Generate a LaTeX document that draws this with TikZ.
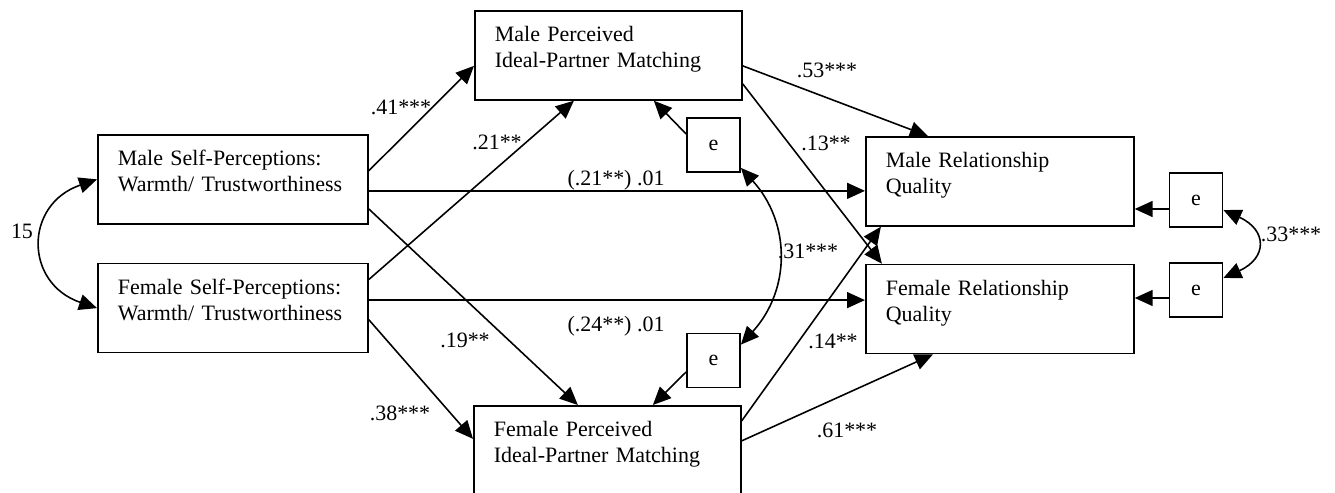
\documentclass[tikz,border=0pt]{standalone}
\usepackage{fontspec}
\setmainfont{Liberation Serif}
\usetikzlibrary{arrows.meta,positioning}

\begin{document}
\begin{tikzpicture}[
      x=0.02cm,y=-0.02cm,
      font=\fontsize{12.5}{14.8}\selectfont,
      box/.style={draw,line width=1pt,anchor=north west,inner xsep=4mm,inner ysep=0pt,
        text width=#1,align=left,text height=6.2mm,text depth=11.6mm},
      ebox/.style={draw,line width=1pt,minimum width=10.6mm,minimum height=10.8mm,inner sep=0pt},
      lbl/.style={anchor=base,inner sep=0pt},
      link/.style={->,line width=0.9pt},
      >={Triangle[length=3.6mm,width=3.2mm]}
    ]
      \useasboundingbox (0,0) rectangle (1335,493);

      % variables
      \node[box=4.6cm] (MSP) at (97,134) {Male Self-Perceptions:\\Warmth/ Trustworthiness};
      \node[box=4.6cm,below=7.6mm of MSP] (FSP) {Female Self-Perceptions:\\Warmth/ Trustworthiness};
      \node[box=4.54cm] (MPM) at (474,10) {Male Perceived\\Ideal-Partner Matching};
      \node[box=4.54cm] (FPM) at (473,405) {Female Perceived\\Ideal-Partner Matching};
      \node[box=4.56cm] (MRQ) at (865,136) {Male Relationship\\Quality};
      \node[box=4.56cm,below=7.4mm of MRQ] (FRQ) {Female Relationship\\Quality};

      % residuals
      \node[ebox] (eMPM) at (713.5,145) {e};
      \node[ebox] (eFPM) at (713.5,360.5) {e};
      \node[ebox] (eMRQ) at (1196,200) {e};
      \node[ebox] (eFRQ) at (1196,290) {e};

      % paths
      \draw[link] ([yshift=1.7mm]MSP.east) -- ([yshift=-2.1mm]MPM.west);
      \draw[link] ([yshift=-2.3mm]MSP.east) -- ([yshift=-2.3mm]MSP.east -| MRQ.west);
      \draw[link] ([yshift=-5.9mm]MSP.east) -- ([xshift=-5.9mm]FPM.north);
      \draw[link] ([yshift=5.7mm]FSP.east) -- ([xshift=-6.9mm]MPM.south);
      \draw[link] ([yshift=1.6mm]FSP.east) -- ([yshift=1.6mm]FSP.east -| FRQ.west);
      \draw[link] ([yshift=-2.3mm]FSP.east) -- ([yshift=2.3mm]FPM.west);
      \draw[link] ([yshift=-2.1mm]MPM.east) -- ([xshift=-14.4mm]MRQ.north);
      \draw[link] ([yshift=-5.7mm]MPM.east) -- ([xshift=-23.6mm]FRQ.north);
      \draw[link] ([yshift=5.9mm]FPM.east) -- ([xshift=-23.8mm]MRQ.south);
      \draw[link] ([yshift=1.9mm]FPM.east) -- ([xshift=-13.4mm]FRQ.south);
      \draw[link] ([yshift=2.2mm]eMPM.west) -- ([xshift=9.1mm]MPM.south);
      \draw[link] ([yshift=-2.3mm]eFPM.west) -- ([xshift=9.1mm]FPM.north);
      \draw[link] ([yshift=-1.8mm]eMRQ.west) -- ([yshift=-1.8mm]eMRQ.west -| MRQ.east);
      \draw[link] ([yshift=-1.6mm]eFRQ.west) -- ([yshift=-1.6mm]eFRQ.west -| FRQ.east);

      % covariances
      \draw[link,<->] (MSP.west) .. controls +(-73,25) and +(-73,-25) .. (FSP.west);
      \draw[link,<->] ([yshift=1mm]eMPM.south east) .. controls +(50,55) and +(50,-55) .. ([yshift=-2.4mm]eFPM.north east);
      \draw[link,<->] ([yshift=-2mm]eMRQ.east) .. controls +(44,20) and +(44,-20) .. ([yshift=2.4mm]eFRQ.east);

      % coefficients
      \node[lbl] (c15) at (22,238) {15};
      \node[lbl] (pMSPMPM) at (401,115) {.41***};
      \node[lbl] (pFSPMPM) at (497,150) {.21**};
      \node[lbl] (pMSPMRQ) at (616,186) {(.21**) .01};
      \node[lbl] (pMSPFPM) at (465,347) {.19**};
      \node[lbl] (pFSPFRQ) at (616,331) {(.24**) .01};
      \node[lbl] (pFSPFPM) at (400,420) {.38***};
      \node[lbl] (pMPMMRQ) at (827,78) {.53***};
      \node[lbl] (pMPMFRQ) at (826,151) {.13**};
      \node[lbl] (ceMPM) at (808,258) {.31***};
      \node[lbl] (pFPMMRQ) at (833,348) {.14**};
      \node[lbl] (pFPMFRQ) at (847,437) {.61***};
      \node[lbl] (ceMRQ) at (1291,241) {.33***};
    \end{tikzpicture}
\end{document}
